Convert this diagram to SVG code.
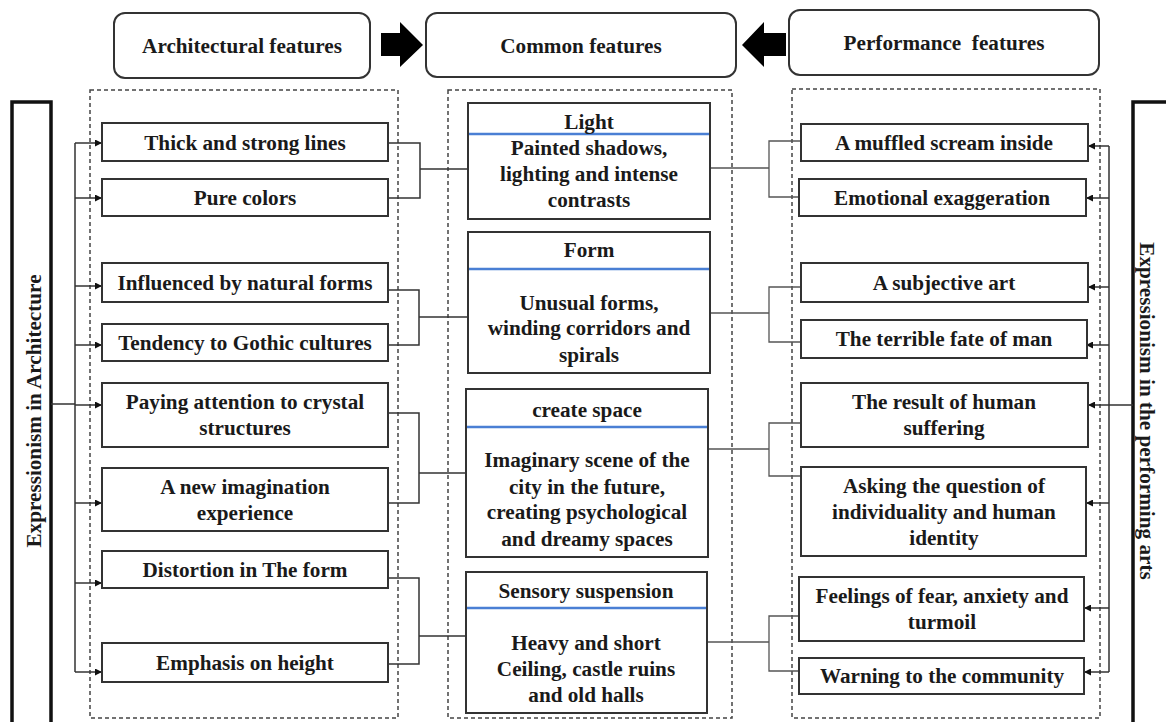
<svg xmlns="http://www.w3.org/2000/svg" width="1166" height="722" viewBox="0 0 1166 722">
<defs>
<style>
text{font-family:"Liberation Serif","Times New Roman",serif;font-weight:bold;font-size:21.2px;fill:#1a1a1a;text-anchor:middle}
.box{fill:#fff;stroke:#333;stroke-width:2}
.hdr{fill:#fff;stroke:#333;stroke-width:2}
.dash{fill:none;stroke:#444;stroke-width:1.5;stroke-dasharray:4,3}
.side{fill:#fff;stroke:#111;stroke-width:3.5}
.blue{stroke:#4a7fd4;stroke-width:2.5}
.ln{fill:none;stroke:#333;stroke-width:1.5}
.lnr{fill:none;stroke:#555;stroke-width:1.3}
</style>
<marker id="ah" viewBox="0 0 10 10" refX="10" refY="5" markerWidth="7" markerHeight="7" markerUnits="userSpaceOnUse" orient="auto">
<path d="M0,0 L10,5 L0,10 z" fill="#111"/>
</marker>
</defs>

<!-- dashed containers -->
<rect class="dash" x="90" y="90" width="308" height="628"/>
<rect class="dash" x="448" y="90" width="284" height="628"/>
<rect class="dash" x="792" y="89" width="308" height="629"/>

<!-- headers -->
<g id="hdr-arch"><rect class="hdr" x="114" y="13" width="256" height="65" rx="11"/><text x="242" y="53">Architectural features</text></g>
<g id="hdr-common"><rect class="hdr" x="426" y="13" width="310" height="64" rx="11"/><text x="581" y="53">Common features</text></g>
<g id="hdr-perf"><rect class="hdr" x="789" y="10" width="310" height="65" rx="11"/><text x="944" y="50" xml:space="preserve">Performance  features</text></g>

<!-- block arrows -->
<path d="M381,33 L400,33 L400,22 L423,45 L400,67 L400,56 L381,56 z" fill="#000"/>
<path d="M786,33 L764,33 L764,22 L742,45 L764,67 L764,56 L786,56 z" fill="#000"/>

<!-- side boxes -->
<g id="side-left"><rect class="side" x="12" y="102" width="39" height="625"/><text transform="translate(41,411) rotate(-90)">Expressionism in Architecture</text></g>
<g id="side-right"><rect class="side" x="1133" y="102" width="40" height="625"/><text transform="translate(1140,411) rotate(90)">Expressionism in the performing arts</text></g>

<!-- connectors -->
<g id="connectors">
<path class="ln" d="M51,404 H75 M75,143 V672"/>
<path class="ln" marker-end="url(#ah)" d="M75,143 H102"/>
<path class="ln" marker-end="url(#ah)" d="M75,198 H102"/>
<path class="ln" marker-end="url(#ah)" d="M75,286 H102"/>
<path class="ln" marker-end="url(#ah)" d="M75,345 H102"/>
<path class="ln" marker-end="url(#ah)" d="M75,405 H102"/>
<path class="ln" marker-end="url(#ah)" d="M75,503 H102"/>
<path class="ln" marker-end="url(#ah)" d="M75,583 H102"/>
<path class="ln" marker-end="url(#ah)" d="M75,672 H102"/>
<path class="ln" d="M388,143 H420 V198 H388 M420,169 H468"/>
<path class="ln" d="M388,290 H419 V345 H388 M419,317 H468"/>
<path class="ln" d="M388,413 H419 V503 H388 M419,473 H466"/>
<path class="ln" d="M388,578 H419 V664 H388 M419,636 H466"/>
<path class="ln" d="M1133,405 H1109 M1109,146 V672"/>
<path class="ln" marker-end="url(#ah)" d="M1109,146 H1088"/>
<path class="ln" marker-end="url(#ah)" d="M1109,198 H1086"/>
<path class="ln" marker-end="url(#ah)" d="M1109,287 H1088"/>
<path class="ln" marker-end="url(#ah)" d="M1109,345 H1086"/>
<path class="ln" marker-end="url(#ah)" d="M1109,405 H1088"/>
<path class="ln" marker-end="url(#ah)" d="M1109,503 H1086"/>
<path class="ln" marker-end="url(#ah)" d="M1109,608 H1084"/>
<path class="ln" marker-end="url(#ah)" d="M1109,672 H1084"/>
<path class="lnr" d="M710,168 H769 M801,141 H769 V197 H801"/>
<path class="lnr" d="M710,313 H769 M801,287 H769 V342 H801"/>
<path class="lnr" d="M708,449 H769 M801,423 H769 V476 H801"/>
<path class="lnr" d="M707,642 H769 M801,616 H769 V671 H801"/>
</g>

<!-- left nodes -->
<g id="a1"><rect class="box" x="102" y="123" width="286" height="38"/><text x="245" y="150">Thick and strong lines</text></g>
<g id="a2"><rect class="box" x="102" y="179" width="286" height="37"/><text x="245" y="205">Pure colors</text></g>
<g id="a3"><rect class="box" x="102" y="263" width="286" height="39"/><text x="245" y="290">Influenced by natural forms</text></g>
<g id="a4"><rect class="box" x="102" y="324" width="286" height="37"/><text x="245" y="350">Tendency to Gothic cultures</text></g>
<g id="a5"><rect class="box" x="102" y="383" width="286" height="64"/><text x="245" y="409">Paying attention to crystal</text><text x="245" y="435">structures</text></g>
<g id="a6"><rect class="box" x="102" y="468" width="286" height="63"/><text x="245" y="494">A new imagination</text><text x="245" y="520">experience</text></g>
<g id="a7"><rect class="box" x="102" y="551" width="286" height="37"/><text x="245" y="577">Distortion in The form</text></g>
<g id="a8"><rect class="box" x="102" y="643" width="286" height="39"/><text x="245" y="670">Emphasis on height</text></g>

<!-- middle nodes -->
<g id="c1"><rect class="box" x="468" y="103" width="242" height="116"/><line class="blue" x1="469" y1="134" x2="709" y2="134"/><text x="589" y="129">Light</text><text x="589" y="155">Painted shadows,</text><text x="589" y="181">lighting and intense</text><text x="589" y="207">contrasts</text></g>
<g id="c2"><rect class="box" x="468" y="232" width="242" height="141"/><line class="blue" x1="469" y1="269" x2="709" y2="269"/><text x="589" y="257">Form</text><text x="589" y="310">Unusual forms,</text><text x="589" y="335">winding corridors and</text><text x="589" y="362">spirals</text></g>
<g id="c3"><rect class="box" x="466" y="389" width="242" height="168"/><line class="blue" x1="467" y1="427" x2="707" y2="427"/><text x="587" y="417">create space</text><text x="587" y="467">Imaginary scene of the</text><text x="587" y="494">city in the future,</text><text x="587" y="519">creating psychological</text><text x="587" y="546">and dreamy spaces</text></g>
<g id="c4"><rect class="box" x="466" y="572" width="241" height="141"/><line class="blue" x1="467" y1="608" x2="706" y2="608"/><text x="586" y="598">Sensory suspension</text><text x="586" y="650">Heavy and short</text><text x="586" y="676">Ceiling, castle ruins</text><text x="586" y="702">and old halls</text></g>

<!-- right nodes -->
<g id="p1"><rect class="box" x="801" y="124" width="287" height="37"/><text x="944" y="150">A muffled scream inside</text></g>
<g id="p2"><rect class="box" x="799" y="179" width="287" height="37"/><text x="942" y="205">Emotional exaggeration</text></g>
<g id="p3"><rect class="box" x="801" y="263" width="287" height="39"/><text x="944" y="290">A subjective art</text></g>
<g id="p4"><rect class="box" x="801" y="320" width="286" height="38"/><text x="944" y="346">The terrible fate of man</text></g>
<g id="p5"><rect class="box" x="801" y="383" width="287" height="64"/><text x="944" y="409">The result of human</text><text x="944" y="435">suffering</text></g>
<g id="p6"><rect class="box" x="801" y="467" width="285" height="89"/><text x="944" y="493">Asking the question of</text><text x="944" y="519">individuality and human</text><text x="944" y="545">identity</text></g>
<g id="p7"><rect class="box" x="799" y="577" width="285" height="64"/><text x="942" y="603">Feelings of fear, anxiety and</text><text x="942" y="629">turmoil</text></g>
<g id="p8"><rect class="box" x="799" y="658" width="285" height="36"/><text x="942" y="683">Warning to the community</text></g>
</svg>
